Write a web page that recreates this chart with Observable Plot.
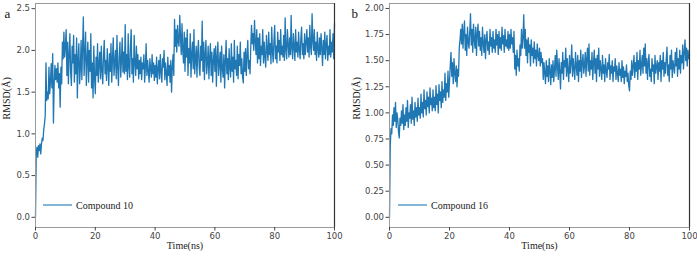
<!DOCTYPE html>
<html>
<head>
<meta charset="utf-8">
<script src="https://cdn.jsdelivr.net/npm/d3@7"></script>
<script src="https://cdn.jsdelivr.net/npm/@observablehq/plot@0.6"></script>
<style>
  html, body { margin: 0; padding: 0; background: #fff; }
  #wrap { display: flex; width: 697px; height: 256px; }
</style>
</head>
<body>
<div id="wrap"></div>
<script>
// sampling step of the series (ns)
const timeStep = 0.25;

// Compound 10 RMSD (Å), one value per 0.25 ns from 0 to 100 ns
const rmsdCompound10 = [
  0.00, 0.78, 0.84, 0.72, 0.86, 0.80, 0.88, 0.76, 0.88, 0.95, 0.92, 1.05, 1.12, 1.22, 1.85, 1.40, 1.50, 1.42, 1.80, 1.48,
  1.62, 1.84, 1.55, 1.96, 1.13, 1.60, 1.82, 1.65, 1.78, 1.62, 1.85, 1.55, 1.72, 1.32, 1.80, 1.60, 2.10, 1.90, 2.22, 1.92,
  2.05, 2.25, 1.70, 2.10, 1.60, 1.95, 2.20, 1.75, 1.58, 2.05, 1.85, 2.18, 1.62, 1.95, 1.72, 2.15, 1.43, 1.90, 2.08, 1.60,
  1.78, 2.12, 1.65, 2.05, 2.40, 1.70, 1.95, 2.22, 1.58, 1.88, 2.10, 1.62, 2.00, 1.75, 2.20, 1.55, 1.85, 1.43, 2.05, 1.68,
  1.48, 1.92, 1.70, 2.08, 1.62, 1.85, 1.98, 1.66, 2.05, 1.75, 1.60, 1.95, 2.12, 1.72, 1.88, 1.64, 2.02, 1.80, 1.58, 1.96,
  1.75, 2.08, 1.62, 1.90, 2.15, 1.70, 1.85, 2.00, 1.66, 2.18, 1.78, 1.58, 1.95, 2.10, 1.68, 1.88, 2.15, 1.74, 1.98, 1.72,
  2.31, 1.75, 1.95, 1.65, 2.20, 1.80, 1.68, 2.05, 2.25, 1.72, 1.90, 1.62, 2.18, 1.85, 1.70, 2.05, 1.78, 1.95, 1.66, 1.88,
  1.72, 1.92, 1.65, 1.85, 1.78, 1.95, 1.62, 1.80, 2.08, 1.70, 1.88, 1.75, 1.62, 1.90, 1.78, 1.68, 1.95, 1.72, 1.85, 1.64,
  1.82, 1.68, 1.92, 1.60, 1.78, 1.88, 1.66, 1.95, 1.74, 1.62, 1.90, 1.80, 2.00, 1.65, 1.85, 1.72, 1.58, 1.92, 1.70, 1.82,
  1.62, 1.88, 1.50, 1.80, 1.95, 1.70, 2.37, 2.05, 2.25, 1.98, 2.30, 2.10, 2.05, 2.42, 2.15, 1.95, 2.32, 2.00, 1.85, 2.22,
  1.75, 2.15, 1.92, 2.25, 1.70, 2.02, 1.85, 2.20, 1.68, 1.95, 2.10, 1.78, 2.25, 1.72, 1.90, 2.05, 1.68, 1.98, 2.12, 1.80,
  1.70, 2.05, 1.88, 2.35, 1.75, 2.10, 1.65, 1.95, 2.12, 1.72, 1.85, 2.05, 1.66, 1.92, 2.08, 1.70, 1.98, 1.62, 1.88, 2.02,
  1.75, 2.05, 1.57, 1.92, 2.10, 1.70, 1.85, 1.98, 1.62, 2.05, 1.78, 1.68, 1.95, 1.55, 1.88, 2.12, 1.72, 1.90, 1.65, 2.02,
  1.80, 1.68, 2.08, 1.75, 1.92, 1.62, 2.12, 1.78, 1.88, 1.70, 2.05, 1.66, 1.95, 1.82, 2.10, 1.72, 1.90, 1.68, 1.61, 1.98,
  1.75, 2.02, 1.70, 1.95, 2.12, 1.78, 1.88, 1.72, 2.05, 2.30, 2.08, 2.20, 2.00, 2.36, 2.10, 1.95, 2.25, 1.85, 2.15, 1.90,
  2.20, 1.82, 2.05, 1.95, 2.25, 1.85, 2.10, 1.92, 1.80, 2.18, 2.00, 1.88, 2.22, 1.95, 2.08, 1.84, 2.28, 1.98, 1.86, 2.12,
  2.30, 1.90, 2.05, 1.85, 2.22, 1.98, 2.12, 1.88, 2.25, 1.95, 2.05, 1.92, 2.18, 1.88, 2.39, 2.00, 1.90, 2.25, 2.08, 1.92,
  2.15, 1.95, 2.42, 2.02, 1.90, 2.20, 2.05, 1.88, 2.25, 1.98, 2.10, 1.92, 2.22, 2.00, 1.90, 2.15, 2.28, 1.95, 2.08, 1.90,
  2.20, 1.95, 2.10, 2.25, 1.98, 2.15, 1.92, 2.30, 2.05, 1.95, 2.44, 2.12, 2.00, 2.25, 1.95, 2.10, 1.88, 2.22, 2.02, 1.92,
  2.15, 1.95, 2.20, 2.02, 1.82, 2.12, 1.95, 2.22, 1.90, 2.08, 2.18, 1.88, 2.05, 1.95, 2.25, 1.92, 2.10, 1.98, 2.20, 1.90,
  2.32
];

// Compound 16 RMSD (Å), one value per 0.25 ns from 0 to 100 ns
const rmsdCompound16 = [
  0.00, 0.68, 0.85, 0.80, 0.98, 0.88, 1.05, 0.92, 1.10, 0.86, 1.00, 0.94, 0.82, 0.76, 0.95, 0.88, 1.02, 0.90, 1.08, 0.84,
  0.98, 0.88, 1.05, 0.92, 1.12, 0.86, 1.00, 0.95, 1.08, 0.90, 1.15, 0.94, 1.02, 0.88, 1.10, 0.96, 1.05, 0.92, 1.14, 0.98,
  1.05, 0.95, 1.18, 1.00, 1.10, 0.96, 1.22, 1.04, 1.12, 0.98, 1.20, 1.06, 1.15, 1.00, 1.24, 1.08, 1.14, 1.02, 1.22, 1.05,
  1.15, 1.02, 1.26, 1.08, 1.18, 1.00, 1.27, 1.12, 1.20, 1.05, 1.30, 1.10, 1.22, 1.15, 1.38, 1.12, 1.28, 1.20, 1.40, 1.15,
  1.30, 1.45, 1.58, 1.35, 1.48, 1.28, 1.52, 1.38, 1.30, 1.45, 1.25, 1.42, 1.35, 1.62, 1.70, 1.80, 1.66, 1.85, 1.62, 1.78,
  1.88, 1.60, 1.75, 1.55, 1.82, 1.68, 1.62, 1.78, 1.95, 1.65, 1.80, 1.58, 1.85, 1.70, 1.62, 1.82, 1.55, 1.76, 1.85, 1.64,
  1.78, 1.60, 1.72, 1.55, 1.82, 1.66, 1.58, 1.75, 1.52, 1.70, 1.78, 1.60, 1.68, 1.56, 1.80, 1.64, 1.72, 1.58, 1.78, 1.62,
  1.70, 1.58, 1.80, 1.65, 1.75, 1.56, 1.78, 1.62, 1.72, 1.60, 1.82, 1.66, 1.74, 1.58, 1.80, 1.64, 1.70, 1.62, 1.78, 1.60,
  1.75, 1.62, 1.80, 1.66, 1.72, 1.58, 1.78, 1.42, 1.55, 1.36, 1.60, 1.45, 1.52, 1.40, 1.65, 1.55, 1.80, 1.62, 1.72, 1.94,
  1.62, 1.80, 1.55, 1.70, 1.48, 1.72, 1.58, 1.65, 1.45, 1.70, 1.55, 1.62, 1.48, 1.68, 1.52, 1.60, 1.45, 1.66, 1.55, 1.50,
  1.62, 1.45, 1.58, 1.48, 1.52, 1.32, 1.48, 1.38, 1.28, 1.50, 1.35, 1.45, 1.30, 1.52, 1.40, 1.27, 1.46, 1.34, 1.50, 1.30,
  1.42, 1.55, 1.35, 1.60, 1.45, 1.32, 1.52, 1.40, 1.23, 1.48, 1.38, 1.58, 1.32, 1.50, 1.44, 1.62, 1.35, 1.52, 1.40, 1.30,
  1.55, 1.38, 1.48, 1.65, 1.35, 1.52, 1.42, 1.32, 1.58, 1.45, 1.36, 1.55, 1.30, 1.50, 1.40, 1.60, 1.34, 1.48, 1.56, 1.38,
  1.45, 1.58, 1.35, 1.52, 1.62, 1.40, 1.66, 1.36, 1.50, 1.42, 1.58, 1.32, 1.48, 1.60, 1.38, 1.52, 1.30, 1.55, 1.42, 1.62,
  1.35, 1.50, 1.42, 1.32, 1.55, 1.38, 1.46, 1.30, 1.52, 1.40, 1.34, 1.48, 1.42, 1.56, 1.32, 1.45, 1.38, 1.50, 1.30, 1.44,
  1.40, 1.52, 1.32, 1.45, 1.38, 1.30, 1.48, 1.36, 1.42, 1.30, 1.50, 1.34, 1.44, 1.28, 1.40, 1.35, 1.46, 1.30, 1.38, 1.26,
  1.21, 1.40, 1.32, 1.50, 1.36, 1.45, 1.55, 1.34, 1.48, 1.40, 1.58, 1.32, 1.50, 1.42, 1.60, 1.36, 1.46, 1.55, 1.38, 1.62,
  1.45, 1.66, 1.38, 1.52, 1.32, 1.48, 1.56, 1.35, 1.42, 1.30, 1.52, 1.40, 1.46, 1.28, 1.55, 1.38, 1.44, 1.50, 1.32, 1.48,
  1.40, 1.55, 1.30, 1.50, 1.42, 1.58, 1.35, 1.48, 1.38, 1.52, 1.63, 1.36, 1.46, 1.30, 1.55, 1.42, 1.60, 1.34, 1.50, 1.44,
  1.38, 1.58, 1.45, 1.62, 1.35, 1.52, 1.42, 1.60, 1.38, 1.55, 1.48, 1.65, 1.42, 1.58, 1.70, 1.50, 1.62, 1.45, 1.60, 1.52,
  1.55
];

const xTicks = [0, 20, 40, 60, 80, 100];
const yTicksA = [0, 0.5, 1.0, 1.5, 2.0, 2.5];
const yTicksB = [0, 0.25, 0.5, 0.75, 1.0, 1.25, 1.5, 1.75, 2.0];

const panels = [
  {letter: "a", label: "Compound 10", values: rmsdCompound10, yTicks: yTicksA, fmt: d3.format(".1f")},
  {letter: "b", label: "Compound 16", values: rmsdCompound16, yTicks: yTicksB, fmt: d3.format(".2f")}
];

const BLUE = "#1f77b4";
const SERIF = "'Liberation Serif', 'Times New Roman', serif";
const SANS = "'DejaVu Sans', sans-serif";

function legendMark(label, offset) {
  return (index, scales, values, dims) => {
    const g = d3.create("svg:g");
    const x0 = dims.marginLeft + offset;
    const y0 = dims.height - dims.marginBottom - 22;
    g.append("line")
      .attr("x1", x0).attr("x2", x0 + 29)
      .attr("y1", y0).attr("y2", y0)
      .attr("stroke", BLUE).attr("stroke-width", 1.1);
    g.append("text")
      .attr("x", x0 + 33).attr("y", y0 + 3.5)
      .attr("text-anchor", "start")
      .attr("font-family", SERIF).attr("font-size", 10)
      .attr("fill", "#222")
      .text(label);
    return g.node();
  };
}

const layout = [
  {width: 345, marginLeft: 35, marginRight: 11, legendOffset: 8},
  {width: 352, marginLeft: 44, marginRight: 8, legendOffset: 9}
];

panels.forEach((p, i) => {
  const L = layout[i];
  const data = p.values.map((v, k) => ({t: k * timeStep, v}));
  const vmax = d3.max(p.values), vmin = d3.min(p.values);
  const pad = (vmax - vmin) * 0.05;
  const chart = Plot.plot({
    width: L.width,
    height: 256,
    marginLeft: L.marginLeft,
    marginRight: L.marginRight,
    marginTop: 3,
    marginBottom: 29,
    style: {background: "#fff", overflow: "visible"},
    x: {domain: [0, 100]},
    y: {domain: [vmin - pad, vmax + pad]},
    marks: [
      Plot.line(data, {x: "t", y: "v", stroke: BLUE, strokeWidth: 1.3}),
      Plot.frame({stroke: "#9a9a9a"}),
      Plot.ruleX([100], {stroke: "#333", strokeWidth: 1.2}),
      Plot.axisX({ticks: xTicks, tickSize: 3.5, tickPadding: 2, fontSize: 8.5, fontFamily: SANS, color: "#444", label: null, tickFormat: d => d}),
      Plot.axisY({ticks: p.yTicks, tickSize: 3.5, tickPadding: 2, fontSize: 8.5, fontFamily: SANS, color: "#444", label: null, tickFormat: p.fmt}),
      Plot.text(["Time(ns)"], {frameAnchor: "bottom", dy: 21, text: d => d, fontFamily: SERIF, fontSize: 10, fill: "#222"}),
      Plot.text(["RMSD(Å)"], {frameAnchor: "left", dx: i === 0 ? -29 : -33, dy: 4, rotate: -90, text: d => d, fontFamily: SERIF, fontSize: 10, fill: "#222"}),
      Plot.text([p.letter], {frameAnchor: "top-left", dx: i === 0 ? -31 : -38, dy: 5, text: d => d, fontFamily: SERIF, fontSize: 13, fill: "#111"}),
      legendMark(p.label, L.legendOffset)
    ]
  });
  document.getElementById("wrap").appendChild(chart);
});
</script>
</body>
</html>
